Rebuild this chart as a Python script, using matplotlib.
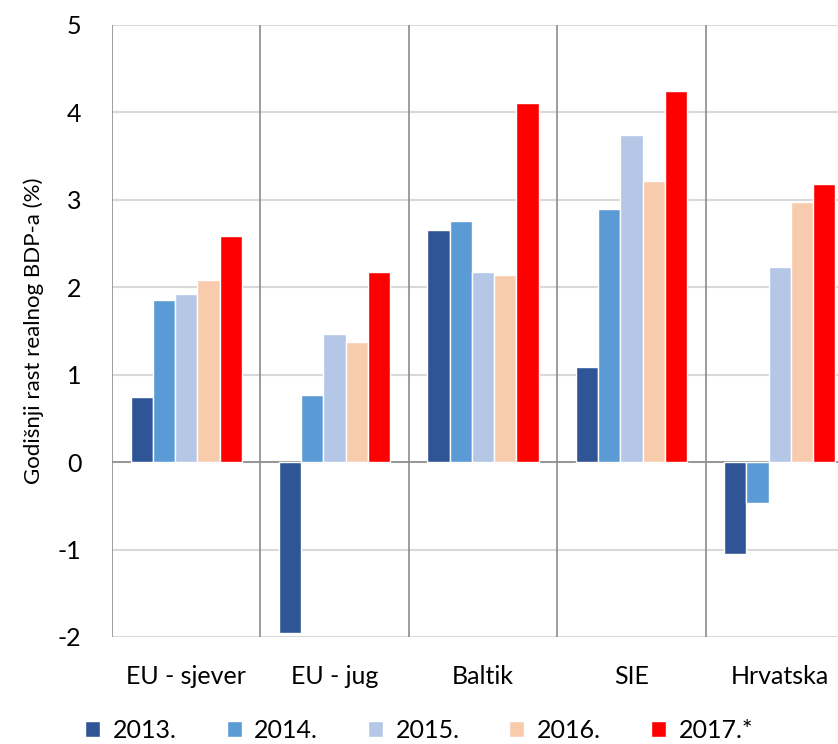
import numpy as np
import matplotlib.pyplot as plt

plt.rcParams['font.family'] = ['Lato', 'DejaVu Sans']
plt.rcParams['axes.unicode_minus'] = False

# data
regions = ["EU - sjever", "EU - jug", "Baltik", "SIE", "Hrvatska"]
years = ["2013.", "2014.", "2015.", "2016.", "2017.*"]
g2013 = [0.74, -1.95, 2.65, 1.09, -1.05]
g2014 = [1.86, 0.77, 2.76, 2.90, -0.47]
g2015 = [1.92, 1.47, 2.17, 3.74, 2.23]
g2016 = [2.08, 1.37, 2.14, 3.22, 2.97]
g2017 = [2.59, 2.18, 4.11, 4.24, 3.18]
colors = ["#2F5597", "#5B9BD5", "#B4C7E7", "#F8CBAD", "#FF0000"]

series = [g2013, g2014, g2015, g2016, g2017]

fig = plt.figure(figsize=(8.38, 7.44), dpi=100)
ax = fig.add_axes([112/838, 1-637/744, 742/838, 612/744])

x = np.arange(len(regions)) + 0.5
w = 0.15
for k, (vals, yr, c) in enumerate(zip(series, years, colors)):
    ax.bar(x + (k-2)*w, vals, w, color=c, edgecolor="white", linewidth=1,
           label=yr, zorder=3)

ax.set_xlim(0, len(regions))
ax.set_ylim(-2, 5)
ax.set_yticks(range(-2, 6))
ax.yaxis.grid(True, color="#D9D9D9", linewidth=1.5, zorder=0)
ax.set_axisbelow(True)
ax.axhline(0, color="#8C8C8C", linewidth=1.2, zorder=2)
for b in range(len(regions)+1):
    ax.axvline(b, color="#8C8C8C", linewidth=1.2, zorder=2)

for s in ax.spines.values():
    s.set_visible(False)

ax.set_xticks(x)
ax.set_xticklabels(regions)
ax.tick_params(axis="x", length=0, pad=20, labelsize=18)
ax.tick_params(axis="y", length=0, pad=22, labelsize=18)
ax.set_ylabel("Godišnji rast realnog BDP-a (%)", fontsize=16, labelpad=10)

fig.legend(loc="center", bbox_to_anchor=(0.5, 1-730/744), ncol=5,
           frameon=False, fontsize=18, handlelength=0.6, handleheight=0.6,
           handletextpad=0.5, columnspacing=2.0, borderpad=0.2)

fig.savefig("out.png", dpi=100)
